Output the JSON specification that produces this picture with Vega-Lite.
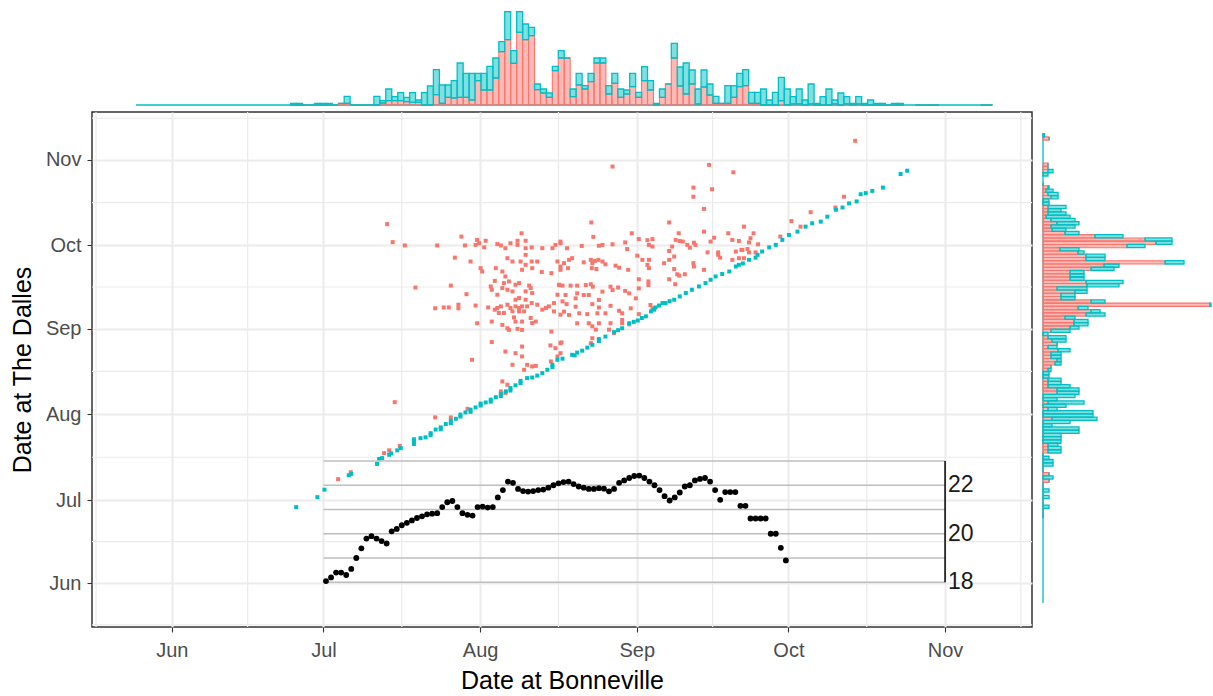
{
"$schema": "https://vega.github.io/schema/vega-lite/v6.json",
"background": "white",
"padding": {"left": 9, "top": 9, "right": 0, "bottom": 0},
"config": {"view": {"stroke": null}, "font": "Liberation Sans"},
"datasets": {
"base": [{"lo": 144.9, "hi": 314.39}],
"minor": [{"b":137,"d":137},{"b":167,"d":167},{"b":197.5,"d":197.5},{"b":228.5,"d":228.5},{"b":259,"d":259},{"b":289.5,"d":289.5},{"b":320,"d":320}],
"ig": [{"t":18,"b":182,"b2":305},{"t":19,"b":182,"b2":305},{"t":20,"b":182,"b2":305},{"t":21,"b":182,"b2":305},{"t":22,"b":182,"b2":305},{"t":23,"b":182,"b2":305}],
"iax": [{"b":305,"t":18,"t2":23}],
"il": [{"b":305,"t":18,"lab":"18"},{"b":305,"t":20,"lab":"20"},{"b":305,"t":22,"lab":"22"}],
"temp": [{"b":182.5,"t":18.05},{"b":183.5,"t":18.2},{"b":184.5,"t":18.4},{"b":185.5,"t":18.4},{"b":186.5,"t":18.3},{"b":187.5,"t":18.55},{"b":188.5,"t":19.0},{"b":189.5,"t":19.4},{"b":190.5,"t":19.8},{"b":191.5,"t":19.9},{"b":192.5,"t":19.8},{"b":193.5,"t":19.7},{"b":194.5,"t":19.6},{"b":195.5,"t":20.1},{"b":196.5,"t":20.2},{"b":197.5,"t":20.35},{"b":198.5,"t":20.45},{"b":199.5,"t":20.55},{"b":200.5,"t":20.65},{"b":201.5,"t":20.72},{"b":202.5,"t":20.8},{"b":203.5,"t":20.83},{"b":204.5,"t":20.85},{"b":205.5,"t":21.1},{"b":206.5,"t":21.3},{"b":207.5,"t":21.35},{"b":208.5,"t":21.1},{"b":209.5,"t":20.85},{"b":210.5,"t":20.78},{"b":211.5,"t":20.75},{"b":212.5,"t":21.1},{"b":213.5,"t":21.12},{"b":214.5,"t":21.08},{"b":215.5,"t":21.1},{"b":216.5,"t":21.5},{"b":217.5,"t":21.8},{"b":218.5,"t":22.15},{"b":219.5,"t":22.1},{"b":220.5,"t":21.85},{"b":221.5,"t":21.76},{"b":222.5,"t":21.74},{"b":223.5,"t":21.76},{"b":224.5,"t":21.8},{"b":225.5,"t":21.82},{"b":226.5,"t":21.9},{"b":227.5,"t":22.0},{"b":228.5,"t":22.08},{"b":229.5,"t":22.13},{"b":230.5,"t":22.15},{"b":231.5,"t":22.05},{"b":232.5,"t":21.95},{"b":233.5,"t":21.9},{"b":234.5,"t":21.85},{"b":235.5,"t":21.85},{"b":236.5,"t":21.88},{"b":237.5,"t":21.86},{"b":238.5,"t":21.75},{"b":239.5,"t":21.85},{"b":240.5,"t":22.1},{"b":241.5,"t":22.2},{"b":242.5,"t":22.3},{"b":243.5,"t":22.38},{"b":244.5,"t":22.4},{"b":245.5,"t":22.3},{"b":246.5,"t":22.15},{"b":247.5,"t":22.0},{"b":248.5,"t":21.8},{"b":249.5,"t":21.55},{"b":250.5,"t":21.37},{"b":251.5,"t":21.5},{"b":252.5,"t":21.7},{"b":253.5,"t":21.95},{"b":254.5,"t":22.0},{"b":255.5,"t":22.2},{"b":256.5,"t":22.26},{"b":257.5,"t":22.3},{"b":258.5,"t":22.15},{"b":259.5,"t":21.8},{"b":260.5,"t":21.4},{"b":261.5,"t":21.72},{"b":262.5,"t":21.72},{"b":263.5,"t":21.72},{"b":264.5,"t":21.15},{"b":265.5,"t":21.15},{"b":266.5,"t":20.63},{"b":267.5,"t":20.63},{"b":268.5,"t":20.63},{"b":269.5,"t":20.63},{"b":270.5,"t":20.0},{"b":271.5,"t":20.0},{"b":272.5,"t":19.42},{"b":273.5,"t":18.9}],
"cyan": [{"b":176.6,"d":179.5},{"b":180.8,"d":183.1},{"b":182.2,"d":185.8},{"b":187,"d":191},{"b":187.5,"d":191.5},{"b":192.6,"d":195.1},{"b":193,"d":196.9},{"b":193.6,"d":197.2},{"b":195,"d":198.4},{"b":195.4,"d":198.9},{"b":196.6,"d":200},{"b":197.3,"d":200.8},{"b":199.9,"d":203.2},{"b":199.9,"d":202.3},{"b":199.9,"d":204},{"b":201.2,"d":204.4},{"b":202.2,"d":204.7},{"b":203.2,"d":206.2},{"b":203.2,"d":205.5},{"b":204.2,"d":207.5},{"b":205.2,"d":208.3},{"b":205.2,"d":207.6},{"b":206.2,"d":209.5},{"b":207.2,"d":210.7},{"b":207.2,"d":209.8},{"b":208.2,"d":211.4},{"b":209.1,"d":212.9},{"b":209.1,"d":212.2},{"b":210.1,"d":213.7},{"b":211.1,"d":214.7},{"b":211.1,"d":213.9},{"b":212.1,"d":215.5},{"b":213.1,"d":216.2},{"b":213.1,"d":216.9},{"b":214.1,"d":217.3},{"b":215.1,"d":218.3},{"b":215.1,"d":217.6},{"b":216.1,"d":219.2},{"b":217.1,"d":220.3},{"b":217.1,"d":219.6},{"b":218.1,"d":221.3},{"b":219,"d":222.5},{"b":219,"d":221.6},{"b":220,"d":223.5},{"b":221,"d":224.3},{"b":221,"d":225.1},{"b":222.3,"d":226.1},{"b":223.3,"d":226.3},{"b":224.3,"d":227},{"b":225.3,"d":227.9},{"b":226.3,"d":229.1},{"b":227.3,"d":230.9},{"b":227.3,"d":230.1},{"b":228.3,"d":232.7},{"b":229.3,"d":233.1},{"b":231.2,"d":234.5},{"b":231.7,"d":234.3},{"b":232.2,"d":235.3},{"b":233.2,"d":236},{"b":234.2,"d":237.1},{"b":235.2,"d":238.1},{"b":236.5,"d":240.2},{"b":236.5,"d":239.5},{"b":237.8,"d":241.1},{"b":239.5,"d":242.7},{"b":240.3,"d":243.4},{"b":241.1,"d":244.1},{"b":242.5,"d":245.9},{"b":243.4,"d":246.4},{"b":244.2,"d":246.9},{"b":245,"d":247.8},{"b":245.8,"d":248.4},{"b":246.8,"d":250.2},{"b":247.4,"d":250.8},{"b":247.7,"d":251.6},{"b":248.4,"d":252.3},{"b":249.1,"d":253.2},{"b":249.7,"d":253.2},{"b":250.5,"d":253.9},{"b":251.4,"d":254.4},{"b":252.5,"d":255.6},{"b":253.7,"d":256.8},{"b":254.9,"d":258},{"b":256.3,"d":259.2},{"b":257.6,"d":260.4},{"b":258.6,"d":261.6},{"b":259.6,"d":262.8},{"b":260.9,"d":263.7},{"b":262.3,"d":264.6},{"b":263.6,"d":266.4},{"b":264.2,"d":267},{"b":265,"d":267.5},{"b":266.2,"d":268.8},{"b":267.5,"d":269.6},{"b":267.9,"d":270.6},{"b":268.8,"d":271.8},{"b":270.2,"d":273.3},{"b":271.5,"d":274.2},{"b":272.8,"d":276},{"b":274.1,"d":277.8},{"b":275.8,"d":279},{"b":277.4,"d":280.8},{"b":278.7,"d":282},{"b":280.4,"d":282.6},{"b":281.7,"d":284.4},{"b":283.4,"d":286.9},{"b":284.7,"d":287.7},{"b":286,"d":289.2},{"b":287.5,"d":289.9},{"b":288.3,"d":292.5},{"b":289.3,"d":292.9},{"b":290.6,"d":293.7},{"b":292.7,"d":294.9},{"b":296.2,"d":299.8},{"b":297.5,"d":301}],
"red": [{"b":194.6,"d":281.7},{"b":195.7,"d":275.2},{"b":198.1,"d":274.0},{"b":204.5,"d":274.0},{"b":200.2,"d":258.8},{"b":207.2,"d":259.5},{"b":208.0,"d":269.6},{"b":209.3,"d":277.2},{"b":210.0,"d":274.0},{"b":211.1,"d":268.2},{"b":212.1,"d":274.2},{"b":212.4,"d":276.0},{"b":212.8,"d":274.8},{"b":213.1,"d":265.8},{"b":213.4,"d":264.6},{"b":214.1,"d":275.7},{"b":213.8,"d":273.3},{"b":210.3,"d":256.4},{"b":212.1,"d":252.3},{"b":204.1,"d":251.3},{"b":205.8,"d":251.6},{"b":206.8,"d":251.6},{"b":208.7,"d":252.6},{"b":208.7,"d":251.3},{"b":212.4,"d":245.9},{"b":214.6,"d":251.6},{"b":215.3,"d":246.5},{"b":215.3,"d":239.1},{"b":215.9,"d":261.2},{"b":215.1,"d":259.2},{"b":215.3,"d":258.0},{"b":216.4,"d":274.5},{"b":217.1,"d":274.0},{"b":218.0,"d":273.0},{"b":218.4,"d":269.4},{"b":219.0,"d":274.8},{"b":219.4,"d":268.2},{"b":220.4,"d":275.7},{"b":220.4,"d":274.2},{"b":221.2,"d":278.4},{"b":222.0,"d":275.7},{"b":222.0,"d":273.0},{"b":222.0,"d":270.6},{"b":223.2,"d":273.3},{"b":221.0,"d":268.2},{"b":221.3,"d":265.2},{"b":222.0,"d":267.0},{"b":223.2,"d":268.2},{"b":223.3,"d":265.8},{"b":224.3,"d":268.2},{"b":225.3,"d":273.0},{"b":225.2,"d":264.4},{"b":227.1,"d":264.0},{"b":227.3,"d":273.0},{"b":227.9,"d":274.2},{"b":228.9,"d":274.8},{"b":228.3,"d":268.2},{"b":228.9,"d":266.4},{"b":228.9,"d":265.2},{"b":228.6,"d":259.8},{"b":228.3,"d":256.2},{"b":229.3,"d":253.8},{"b":227.6,"d":253.2},{"b":226.6,"d":252.0},{"b":226.0,"d":251.4},{"b":225.3,"d":250.8},{"b":224.3,"d":252.6},{"b":223.2,"d":253.2},{"b":222.3,"d":252.0},{"b":221.3,"d":252.0},{"b":220.7,"d":251.4},{"b":220.0,"d":252.0},{"b":219.0,"d":251.4},{"b":218.4,"d":252.6},{"b":217.1,"d":252.0},{"b":216.4,"d":251.4},{"b":215.9,"d":250.8},{"b":216.7,"d":249.6},{"b":217.7,"d":249.6},{"b":219.4,"d":250.2},{"b":220.7,"d":250.2},{"b":221.7,"d":250.2},{"b":219.7,"d":248.0},{"b":220.0,"d":246.5},{"b":221.3,"d":246.5},{"b":223.0,"d":247.8},{"b":223.3,"d":246.0},{"b":224.0,"d":246.5},{"b":227.6,"d":250.2},{"b":228.9,"d":249.0},{"b":227.1,"d":242.9},{"b":226.9,"d":237.9},{"b":227.9,"d":236.9},{"b":228.9,"d":238.7},{"b":218.4,"d":244.1},{"b":218.7,"d":243.5},{"b":220.4,"d":243.9},{"b":221.3,"d":243.5},{"b":217.4,"d":245.3},{"b":218.0,"d":235.7},{"b":220.0,"d":235.1},{"b":221.3,"d":237.5},{"b":221.3,"d":233.9},{"b":219.4,"d":230.9},{"b":222.3,"d":230.9},{"b":223.3,"d":230.3},{"b":221.7,"d":229.1},{"b":217.4,"d":224.9},{"b":218.4,"d":223.7},{"b":217.1,"d":221.3},{"b":218.0,"d":220.7},{"b":211.4,"d":232.7},{"b":196.1,"d":217.4},{"b":216.1,"d":265.8},{"b":217.4,"d":264.6},{"b":218.0,"d":262.8},{"b":217.7,"d":260.4},{"b":218.7,"d":261.0},{"b":220.0,"d":259.8},{"b":220.7,"d":260.4},{"b":222.0,"d":257.4},{"b":222.7,"d":259.5},{"b":223.0,"d":258.6},{"b":223.3,"d":256.8},{"b":222.0,"d":254.4},{"b":220.7,"d":255.0},{"b":220.0,"d":254.4},{"b":219.4,"d":257.4},{"b":218.4,"d":258.0},{"b":217.4,"d":258.6},{"b":216.4,"d":256.2},
{"b":239.2,"d":302.5},{"b":258.3,"d":303.1},{"b":263.1,"d":300.4},{"b":255.2,"d":294.9},{"b":255.2,"d":291.6},{"b":258.9,"d":294.3},{"b":257.3,"d":287.2},{"b":235.0,"d":282.3},{"b":250.4,"d":282.3},{"b":265.2,"d":280.8},{"b":257.3,"d":279.0},{"b":262.1,"d":278.4},{"b":267.1,"d":278.4},{"b":243.0,"d":278.4},{"b":252.3,"d":278.4},{"b":235.4,"d":277.1},{"b":244.4,"d":276.3},{"b":246.1,"d":275.9},{"b":247.1,"d":276.3},{"b":228.9,"d":275.4},{"b":230.2,"d":273.0},{"b":233.1,"d":273.8},{"b":236.5,"d":273.9},{"b":237.2,"d":274.2},{"b":239.2,"d":274.4},{"b":241.7,"d":275.1},{"b":242.1,"d":272.7},{"b":246.4,"d":274.2},{"b":247.1,"d":273.6},{"b":250.4,"d":272.0},{"b":251.0,"d":273.6},{"b":251.7,"d":276.0},{"b":252.5,"d":275.6},{"b":253.1,"d":275.4},{"b":254.0,"d":274.2},{"b":254.5,"d":273.2},{"b":255.3,"d":275.0},{"b":255.6,"d":274.2},{"b":259.3,"d":276.8},{"b":258.6,"d":275.4},{"b":262.9,"d":276.0},{"b":264.2,"d":275.6},{"b":266.5,"d":276.6},{"b":268.0,"d":274.4},{"b":258.0,"d":271.5},{"b":260.1,"d":271.5},{"b":263.6,"d":271.8},{"b":264.7,"d":272.4},{"b":265.9,"d":272.7},{"b":266.2,"d":271.5},{"b":267.5,"d":271.5},{"b":244.1,"d":270.3},{"b":230.6,"d":268.8},{"b":229.6,"d":267.6},{"b":230.4,"d":265.8},{"b":231.2,"d":269.4},{"b":233.5,"d":267.9},{"b":234.9,"d":268.8},{"b":235.2,"d":267.6},{"b":235.7,"d":268.4},{"b":236.4,"d":268.8},{"b":237.2,"d":268.2},{"b":235.1,"d":265.8},{"b":236.0,"d":265.5},{"b":237.8,"d":267.2},{"b":239.8,"d":266.7},{"b":240.5,"d":266.0},{"b":242.3,"d":265.2},{"b":245.1,"d":268.8},{"b":246.4,"d":268.8},{"b":246.1,"d":267.0},{"b":246.4,"d":265.8},{"b":249.4,"d":267.6},{"b":250.4,"d":268.8},{"b":251.4,"d":270.0},{"b":251.4,"d":265.5},{"b":252.0,"d":263.6},{"b":252.4,"d":263.1},{"b":253.5,"d":263.6},{"b":255.2,"d":267.6},{"b":255.3,"d":266.4},{"b":257.3,"d":265.2},{"b":260.1,"d":270.6},{"b":260.5,"d":269.6},{"b":264.2,"d":269.4},{"b":265.2,"d":269.4},{"b":262.9,"d":268.8},{"b":244.4,"d":261.8},{"b":246.3,"d":261.0},{"b":246.3,"d":259.7},{"b":250.4,"d":261.8},{"b":251.6,"d":260.0},{"b":244.4,"d":258.5},{"b":228.6,"d":259.7},{"b":229.3,"d":259.5},{"b":230.9,"d":259.5},{"b":232.2,"d":259.5},{"b":233.9,"d":259.7},{"b":234.9,"d":260.0},{"b":235.3,"d":259.1},{"b":237.2,"d":257.3},{"b":238.8,"d":259.1},{"b":240.3,"d":258.8},{"b":241.7,"d":257.6},{"b":242.5,"d":256.7},{"b":243.8,"d":254.9},{"b":232.2,"d":256.7},{"b":233.5,"d":256.1},{"b":234.5,"d":256.1},{"b":236.5,"d":254.3},{"b":239.2,"d":257.9},{"b":229.9,"d":256.1},{"b":231.9,"d":254.9},{"b":230.1,"d":252.8},{"b":231.9,"d":251.9},{"b":235.2,"d":252.8},{"b":236.5,"d":251.6},{"b":238.8,"d":252.2},{"b":240.5,"d":250.4},{"b":241.1,"d":249.5},{"b":242.8,"d":251.3},{"b":244.4,"d":249.2},{"b":246.7,"d":252.5},{"b":247.1,"d":251.3},{"b":232.6,"d":249.5},{"b":230.6,"d":248.9},{"b":229.6,"d":250.1},{"b":234.2,"d":249.2},{"b":236.2,"d":249.5},{"b":237.8,"d":249.5},{"b":238.8,"d":245.9},{"b":236.5,"d":245.9},{"b":234.5,"d":245.9},{"b":232.2,"d":245.9},{"b":241.1,"d":245.9},{"b":242.5,"d":245.5},{"b":229.1,"d":239.0},{"b":235.2,"d":240.5},{"b":234.9,"d":238.7},{"b":241.1,"d":247.1},
{"b":239.5,"d":242.4},{"b":238.5,"d":243.6},{"b":235.9,"d":243.6},{"b":235.2,"d":244.8},{"b":228.9,"d":235.1},
{"b":287.2,"d":311.8},{"b":285.0,"d":291.6},{"b":283.3,"d":287.7},{"b":278.4,"d":286.0},{"b":274.6,"d":282.8},{"b":276.4,"d":280.8},{"b":272.4,"d":277.2},{"b":266.2,"d":275.1},{"b":264.9,"d":272.4},
{"b":184.9,"d":189.6},{"b":187.4,"d":192.1},{"b":194.0,"d":199.0},{"b":195.0,"d":200.0},{"b":197.1,"d":201.6},{"b":204.1,"d":211.9},{"b":207.2,"d":211.9},{"b":210.5,"d":215.0},{"b":224.0,"d":230.5},{"b":228.3,"d":233.9},{"b":227.0,"d":232.1}],
"bins": [
{"lo":175.50,"hi":176.68,"tr":0,"tt":1.7,"rr":0,"rt":0},
{"lo":176.68,"hi":177.86,"tr":0,"tt":1.7,"rr":0,"rt":0},
{"lo":177.86,"hi":179.03,"tr":0,"tt":0,"rr":0,"rt":0},
{"lo":179.03,"hi":180.21,"tr":0,"tt":0,"rr":0,"rt":6},
{"lo":180.21,"hi":181.39,"tr":0,"tt":1.7,"rr":0,"rt":0},
{"lo":181.39,"hi":182.56,"tr":0,"tt":1.7,"rr":0,"rt":0},
{"lo":182.56,"hi":183.74,"tr":0,"tt":1.7,"rr":0,"rt":6},
{"lo":183.74,"hi":184.92,"tr":0,"tt":0,"rr":0,"rt":0},
{"lo":184.92,"hi":186.10,"tr":1.7,"tt":1.7,"rr":0,"rt":6},
{"lo":186.10,"hi":187.27,"tr":1.7,"tt":8.7,"rr":0,"rt":0},
{"lo":187.27,"hi":188.45,"tr":0,"tt":0,"rr":0,"rt":0},
{"lo":188.45,"hi":189.63,"tr":0,"tt":0,"rr":6,"rt":6},
{"lo":189.63,"hi":190.80,"tr":0,"tt":0,"rr":0,"rt":10},
{"lo":190.80,"hi":191.98,"tr":0,"tt":0,"rr":6,"rt":6},
{"lo":191.98,"hi":193.16,"tr":0,"tt":8.7,"rr":0,"rt":0},
{"lo":193.16,"hi":194.33,"tr":2,"tt":4.3,"rr":0,"rt":0},
{"lo":194.33,"hi":195.51,"tr":4.3,"tt":16,"rr":0,"rt":10},
{"lo":195.51,"hi":196.69,"tr":4.3,"tt":8.3,"rr":0,"rt":10},
{"lo":196.69,"hi":197.87,"tr":4.3,"tt":12.3,"rr":0,"rt":6},
{"lo":197.87,"hi":199.04,"tr":3.3,"tt":7.7,"rr":0,"rt":0},
{"lo":199.04,"hi":200.22,"tr":2.7,"tt":12.3,"rr":5,"rt":18},
{"lo":200.22,"hi":201.40,"tr":2.7,"tt":5,"rr":5,"rt":18},
{"lo":201.40,"hi":202.57,"tr":0,"tt":12.3,"rr":5,"rt":15},
{"lo":202.57,"hi":203.75,"tr":0,"tt":19,"rr":0,"rt":18},
{"lo":203.75,"hi":204.93,"tr":10.3,"tt":35.3,"rr":0,"rt":18},
{"lo":204.93,"hi":206.10,"tr":1.7,"tt":20,"rr":0,"rt":18},
{"lo":206.10,"hi":207.28,"tr":7.7,"tt":20,"rr":0,"rt":36},
{"lo":207.28,"hi":208.46,"tr":7,"tt":24.3,"rr":0,"rt":36},
{"lo":208.46,"hi":209.64,"tr":7.7,"tt":42,"rr":0,"rt":9},
{"lo":209.64,"hi":210.81,"tr":7.7,"tt":31.7,"rr":0,"rt":27},
{"lo":210.81,"hi":211.99,"tr":5,"tt":31.7,"rr":9,"rt":54},
{"lo":211.99,"hi":213.17,"tr":24.3,"tt":31.7,"rr":0,"rt":50},
{"lo":213.17,"hi":214.34,"tr":15,"tt":31.7,"rr":0,"rt":50},
{"lo":214.34,"hi":215.52,"tr":15,"tt":38.7,"rr":5,"rt":14},
{"lo":215.52,"hi":216.70,"tr":27,"tt":47,"rr":0,"rt":23},
{"lo":216.70,"hi":217.87,"tr":53.3,"tt":63.3,"rr":5,"rt":41},
{"lo":217.87,"hi":219.05,"tr":65.3,"tt":93.3,"rr":0,"rt":14},
{"lo":219.05,"hi":220.23,"tr":41.7,"tt":54.3,"rr":0,"rt":32},
{"lo":220.23,"hi":221.41,"tr":72.7,"tt":93.3,"rr":14,"rt":36},
{"lo":221.41,"hi":222.58,"tr":65.3,"tt":81,"rr":14,"rt":36},
{"lo":222.58,"hi":223.76,"tr":69.3,"tt":77.7,"rr":5,"rt":27},
{"lo":223.76,"hi":224.94,"tr":15.3,"tt":21,"rr":5,"rt":18},
{"lo":224.94,"hi":226.11,"tr":12,"tt":16,"rr":5,"rt":18},
{"lo":226.11,"hi":227.29,"tr":7.7,"tt":12,"rr":0,"rt":6},
{"lo":227.29,"hi":228.47,"tr":34.3,"tt":38.7,"rr":0,"rt":6},
{"lo":228.47,"hi":229.64,"tr":47,"tt":54.3,"rr":5,"rt":8},
{"lo":229.64,"hi":230.82,"tr":47,"tt":47,"rr":8,"rt":8},
{"lo":230.82,"hi":232.00,"tr":8.3,"tt":16,"rr":12,"rt":18},
{"lo":232.00,"hi":233.18,"tr":20,"tt":31.7,"rr":14,"rt":18},
{"lo":233.18,"hi":234.35,"tr":16,"tt":19.3,"rr":8,"rt":18},
{"lo":234.35,"hi":235.53,"tr":23.3,"tt":31.7,"rr":8,"rt":18},
{"lo":235.53,"hi":236.71,"tr":42,"tt":47,"rr":15,"rt":27},
{"lo":236.71,"hi":237.88,"tr":42,"tt":47,"rr":5,"rt":14},
{"lo":237.88,"hi":239.06,"tr":11,"tt":19.3,"rr":14,"rt":14},
{"lo":239.06,"hi":240.24,"tr":21.7,"tt":31.7,"rr":9,"rt":23},
{"lo":240.24,"hi":241.41,"tr":7.7,"tt":16,"rr":5,"rt":23},
{"lo":241.41,"hi":242.59,"tr":11,"tt":15,"rr":0,"rt":5},
{"lo":242.59,"hi":243.77,"tr":18.3,"tt":31.7,"rr":8,"rt":27},
{"lo":243.77,"hi":244.95,"tr":7.7,"tt":12.7,"rr":27,"rt":36},
{"lo":244.95,"hi":246.12,"tr":24.3,"tt":38.3,"rr":31,"rt":45},
{"lo":246.12,"hi":247.30,"tr":15,"tt":24.3,"rr":31,"rt":45},
{"lo":247.30,"hi":248.48,"tr":0,"tt":1.7,"rr":22,"rt":32},
{"lo":248.48,"hi":249.65,"tr":7.7,"tt":16,"rr":43,"rt":62},
{"lo":249.65,"hi":250.83,"tr":21,"tt":21,"rr":48,"rt":57},
{"lo":250.83,"hi":252.01,"tr":47,"tt":61.7,"rr":35,"rt":45},
{"lo":252.01,"hi":253.18,"tr":19,"tt":38,"rr":167,"rt":168},
{"lo":253.18,"hi":254.36,"tr":11,"tt":42,"rr":48,"rt":62},
{"lo":254.36,"hi":255.54,"tr":21,"tt":35,"rr":18,"rt":32},
{"lo":255.54,"hi":256.72,"tr":1,"tt":16,"rr":18,"rt":32},
{"lo":256.72,"hi":257.89,"tr":18,"tt":35,"rr":32,"rt":44},
{"lo":257.89,"hi":259.07,"tr":10,"tt":21,"rr":14,"rt":44},
{"lo":259.07,"hi":260.25,"tr":1.7,"tt":8.7,"rr":44,"rt":76},
{"lo":260.25,"hi":261.42,"tr":1.7,"tt":1.7,"rr":43,"rt":80},
{"lo":261.42,"hi":262.60,"tr":1.7,"tt":19.3,"rr":27,"rt":41},
{"lo":262.60,"hi":263.78,"tr":7.7,"tt":19.3,"rr":27,"rt":41},
{"lo":263.78,"hi":264.95,"tr":18.3,"tt":31.7,"rr":27,"rt":41},
{"lo":264.95,"hi":266.13,"tr":19.3,"tt":35.3,"rr":48,"rt":71},
{"lo":266.13,"hi":267.31,"tr":1.7,"tt":12.7,"rr":61,"rt":76},
{"lo":267.31,"hi":268.49,"tr":1.7,"tt":12.7,"rr":122,"rt":141},
{"lo":268.49,"hi":269.66,"tr":0,"tt":16,"rr":43,"rt":62},
{"lo":269.66,"hi":270.84,"tr":0,"tt":5,"rr":43,"rt":62},
{"lo":270.84,"hi":272.02,"tr":0,"tt":12.7,"rr":35,"rt":41},
{"lo":272.02,"hi":273.19,"tr":4.3,"tt":27.7,"rr":17,"rt":36},
{"lo":273.19,"hi":274.37,"tr":0,"tt":16,"rr":84,"rt":102},
{"lo":274.37,"hi":275.55,"tr":1,"tt":8.3,"rr":113,"rt":129},
{"lo":275.55,"hi":276.72,"tr":1,"tt":16,"rr":102,"rt":129},
{"lo":276.72,"hi":277.90,"tr":0,"tt":5,"rr":52,"rt":80},
{"lo":277.90,"hi":279.08,"tr":1,"tt":21,"rr":22,"rt":36},
{"lo":279.08,"hi":280.26,"tr":0,"tt":1.7,"rr":9,"rt":23},
{"lo":280.26,"hi":281.43,"tr":0,"tt":8.3,"rr":8,"rt":32},
{"lo":281.43,"hi":282.61,"tr":0,"tt":16,"rr":14,"rt":36},
{"lo":282.61,"hi":283.79,"tr":1,"tt":5,"rr":8,"rt":32},
{"lo":283.79,"hi":284.96,"tr":0,"tt":12,"rr":3,"rt":27},
{"lo":284.96,"hi":286.14,"tr":1,"tt":8.3,"rr":5,"rt":23},
{"lo":286.14,"hi":287.32,"tr":0,"tt":1.7,"rr":5,"rt":18},
{"lo":287.32,"hi":288.49,"tr":1,"tt":8.3,"rr":5,"rt":23},
{"lo":288.49,"hi":289.67,"tr":0,"tt":1.7,"rr":0,"rt":6},
{"lo":289.67,"hi":290.85,"tr":0,"tt":5,"rr":0,"rt":6},
{"lo":290.85,"hi":292.03,"tr":0,"tt":1.7,"rr":8,"rt":15},
{"lo":292.03,"hi":293.20,"tr":0,"tt":1.7,"rr":5,"rt":15},
{"lo":293.20,"hi":294.38,"tr":0,"tt":0,"rr":3,"rt":10},
{"lo":294.38,"hi":295.56,"tr":0,"tt":1.7,"rr":5,"rt":6},
{"lo":295.56,"hi":296.73,"tr":0,"tt":1.7,"rr":0,"rt":0},
{"lo":299.09,"hi":300.26,"tr":0,"tt":0,"rr":0,"rt":5},
{"lo":300.26,"hi":301.44,"tr":0,"tt":0,"rr":5,"rt":10},
{"lo":301.44,"hi":302.62,"tr":0,"tt":0,"rr":5,"rt":5},
{"lo":302.62,"hi":303.80,"tr":0,"tt":0,"rr":5,"rt":5},
{"lo":312.03,"hi":313.21,"tr":0,"tt":0,"rr":6,"rt":6},
{"lo":313.21,"hi":314.39,"tr":0,"tt":0,"rr":0,"rt":1.5}
]
},
"spacing": 4,
"vconcat": [
{
 "width": 940, "height": 96,
 "layer": [
  {"data": {"name": "base"}, "mark": {"type": "rule", "color": "#00BFC4", "strokeWidth": 1.3},
   "encoding": {"x": {"field": "lo", "type": "quantitative", "scale": {"domain": [136.2, 322.2], "nice": false, "zero": false}, "axis": null}, "x2": {"field": "hi"}, "y": {"datum": 0, "type": "quantitative", "scale": {"domain": [0, 96], "nice": false, "zero": false}, "axis": null}}},
  {"data": {"name": "bins"}, "mark": {"type": "bar", "fill": "#F8766D", "fillOpacity": 0.5, "stroke": "#F8766D", "strokeWidth": 1.1},
   "encoding": {"x": {"field": "lo", "type": "quantitative", "scale": {"domain": [136.2, 322.2], "nice": false, "zero": false}, "axis": null}, "x2": {"field": "hi"}, "y": {"field": "tr", "type": "quantitative", "scale": {"domain": [0, 96], "nice": false, "zero": false}, "axis": null}, "y2": {"datum": 0}}},
  {"data": {"name": "bins"}, "mark": {"type": "bar", "fill": "#00BFC4", "fillOpacity": 0.5, "stroke": "#00BFC4", "strokeWidth": 1.3},
   "encoding": {"x": {"field": "lo", "type": "quantitative", "scale": {"domain": [136.2, 322.2], "nice": false, "zero": false}, "axis": null}, "x2": {"field": "hi"}, "y": {"field": "tt", "type": "quantitative", "scale": {"domain": [0, 96], "nice": false, "zero": false}, "axis": null}, "y2": {"field": "tr"}}}
 ]
},
{
 "spacing": 8,
 "hconcat": [
  {
   "width": 940, "height": 515,
   "view": {"stroke": "#333333", "strokeWidth": 1.5},
   "resolve": {"scale": {"y": "independent"}},
   "layer": [
    {"layer": [
     {"data": {"name": "minor"}, "mark": {"type": "rule", "color": "#EBEBEB", "strokeWidth": 1.2},
      "encoding": {"x": {"field": "b", "type": "quantitative", "title": "Date at Bonneville", "scale": {"domain": [136.2, 322.2], "nice": false, "zero": false},
        "axis": {"values": [152, 182, 213, 244, 274, 305], "labelExpr": "datum.value == 152 ? 'Jun' : datum.value == 182 ? 'Jul' : datum.value == 213 ? 'Aug' : datum.value == 244 ? 'Sep' : datum.value == 274 ? 'Oct' : 'Nov'", "grid": true, "gridColor": "#EBEBEB", "gridWidth": 2, "domain": false, "ticks": true, "tickColor": "#333333", "tickSize": 5, "tickWidth": 1.1, "labelColor": "#4D4D4D", "labelFontSize": 20, "labelFont": "Liberation Sans", "labelPadding": 8, "labelFlush": false, "labelOverlap": false, "titleFont": "Liberation Sans", "titleFontSize": 25, "titleFontWeight": "normal", "titleColor": "#000000", "titlePadding": 8}}}},
     {"data": {"name": "minor"}, "mark": {"type": "rule", "color": "#EBEBEB", "strokeWidth": 1.2},
      "encoding": {"y": {"field": "d", "type": "quantitative", "title": "Date at The Dalles", "scale": {"domain": [136.2, 322.2], "nice": false, "zero": false},
        "axis": {"values": [152, 182, 213, 244, 274, 305], "labelExpr": "datum.value == 152 ? 'Jun' : datum.value == 182 ? 'Jul' : datum.value == 213 ? 'Aug' : datum.value == 244 ? 'Sep' : datum.value == 274 ? 'Oct' : 'Nov'", "grid": true, "gridColor": "#EBEBEB", "gridWidth": 2, "domain": false, "ticks": true, "tickColor": "#333333", "tickSize": 5, "tickWidth": 1.1, "labelColor": "#4D4D4D", "labelFontSize": 20, "labelFont": "Liberation Sans", "labelPadding": 6, "labelFlush": false, "labelOverlap": false, "titleFont": "Liberation Sans", "titleFontSize": 25, "titleFontWeight": "normal", "titleColor": "#000000", "titlePadding": 10}}}},
     {"data": {"name": "red"}, "mark": {"type": "point", "shape": "square", "filled": true, "size": 16, "color": "#F8766D", "opacity": 1},
      "encoding": {"x": {"field": "b", "type": "quantitative", "title": "Date at Bonneville", "scale": {"domain": [136.2, 322.2], "nice": false, "zero": false}}, "y": {"field": "d", "type": "quantitative", "title": "Date at The Dalles", "scale": {"domain": [136.2, 322.2], "nice": false, "zero": false}}}},
     {"data": {"name": "cyan"}, "mark": {"type": "point", "shape": "square", "filled": true, "size": 16, "color": "#00BFC4", "opacity": 1},
      "encoding": {"x": {"field": "b", "type": "quantitative", "title": "Date at Bonneville", "scale": {"domain": [136.2, 322.2], "nice": false, "zero": false}}, "y": {"field": "d", "type": "quantitative", "title": "Date at The Dalles", "scale": {"domain": [136.2, 322.2], "nice": false, "zero": false}}}}
    ]},
    {"layer": [
     {"data": {"name": "ig"}, "mark": {"type": "rule", "color": "#BEBEBE", "strokeWidth": 1.5},
      "encoding": {"x": {"field": "b", "type": "quantitative", "title": "Date at Bonneville", "scale": {"domain": [136.2, 322.2], "nice": false, "zero": false}}, "x2": {"field": "b2"}, "y": {"field": "t", "type": "quantitative", "scale": {"domain": [16.157, 37.386], "nice": false, "zero": false}, "axis": null}}},
     {"data": {"name": "iax"}, "mark": {"type": "rule", "color": "#000000", "strokeWidth": 1.5},
      "encoding": {"x": {"field": "b", "type": "quantitative", "title": "Date at Bonneville", "scale": {"domain": [136.2, 322.2], "nice": false, "zero": false}}, "y": {"field": "t", "type": "quantitative", "scale": {"domain": [16.157, 37.386], "nice": false, "zero": false}, "axis": null}, "y2": {"field": "t2"}}},
     {"data": {"name": "il"}, "mark": {"type": "text", "align": "left", "baseline": "middle", "dx": 3, "fontSize": 23, "font": "Liberation Sans", "color": "#1A1A1A"},
      "encoding": {"x": {"field": "b", "type": "quantitative", "title": "Date at Bonneville", "scale": {"domain": [136.2, 322.2], "nice": false, "zero": false}}, "y": {"field": "t", "type": "quantitative", "scale": {"domain": [16.157, 37.386], "nice": false, "zero": false}, "axis": null}, "text": {"field": "lab"}}},
     {"data": {"name": "temp"}, "mark": {"type": "circle", "size": 34, "color": "#000000", "opacity": 1},
      "encoding": {"x": {"field": "b", "type": "quantitative", "title": "Date at Bonneville", "scale": {"domain": [136.2, 322.2], "nice": false, "zero": false}}, "y": {"field": "t", "type": "quantitative", "scale": {"domain": [16.157, 37.386], "nice": false, "zero": false}, "axis": null}}}
    ]}
   ]
  },
  {
   "width": 170, "height": 515,
   "layer": [
    {"data": {"name": "base"}, "mark": {"type": "rule", "color": "#00BFC4", "strokeWidth": 1.3},
     "encoding": {"y": {"field": "lo", "type": "quantitative", "scale": {"domain": [136.2, 322.2], "nice": false, "zero": false}, "axis": null}, "y2": {"field": "hi"}, "x": {"datum": 0, "type": "quantitative", "scale": {"domain": [0, 170], "nice": false, "zero": false}, "axis": null}}},
    {"data": {"name": "bins"}, "mark": {"type": "bar", "fill": "#F8766D", "fillOpacity": 0.5, "stroke": "#F8766D", "strokeWidth": 1.1},
     "encoding": {"y": {"field": "lo", "type": "quantitative", "scale": {"domain": [136.2, 322.2], "nice": false, "zero": false}, "axis": null}, "y2": {"field": "hi"}, "x": {"field": "rr", "type": "quantitative", "scale": {"domain": [0, 170], "nice": false, "zero": false}, "axis": null}, "x2": {"datum": 0}}},
    {"data": {"name": "bins"}, "mark": {"type": "bar", "fill": "#00BFC4", "fillOpacity": 0.5, "stroke": "#00BFC4", "strokeWidth": 1.3},
     "encoding": {"y": {"field": "lo", "type": "quantitative", "scale": {"domain": [136.2, 322.2], "nice": false, "zero": false}, "axis": null}, "y2": {"field": "hi"}, "x": {"field": "rt", "type": "quantitative", "scale": {"domain": [0, 170], "nice": false, "zero": false}, "axis": null}, "x2": {"field": "rr"}}}
   ]
  }
 ]
}
]
}
